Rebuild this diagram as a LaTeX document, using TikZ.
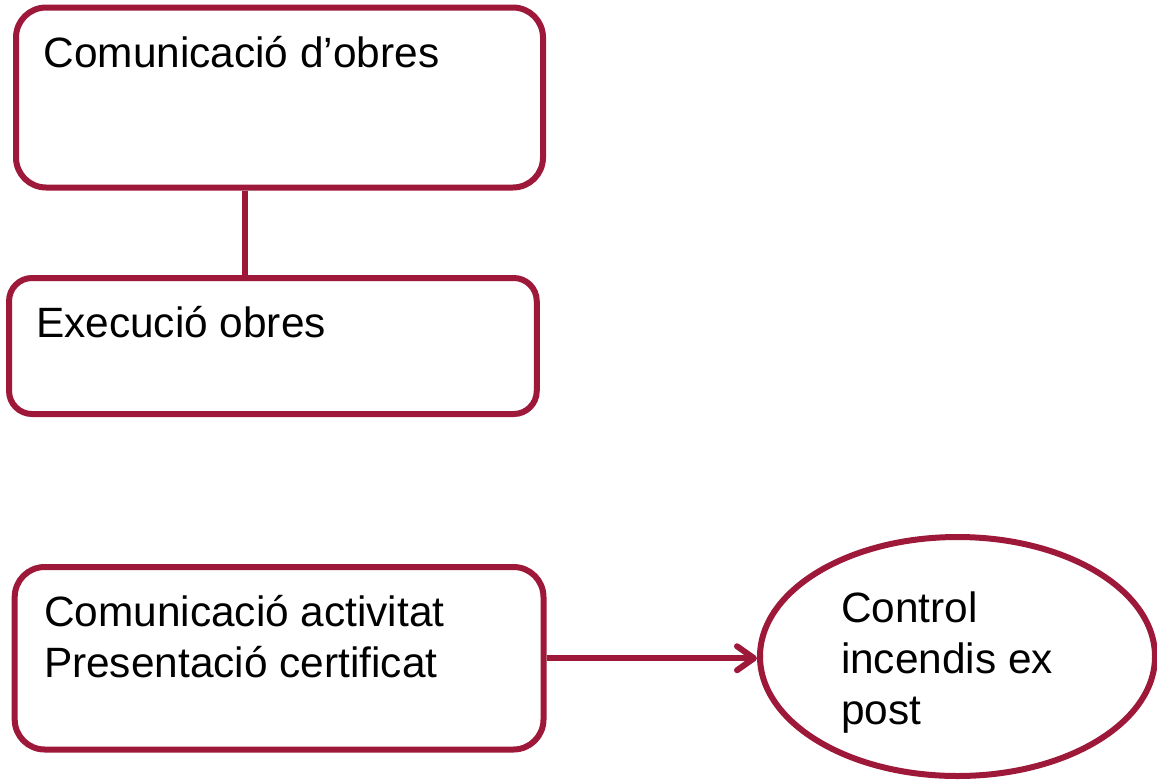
\documentclass[tikz,border=0pt]{standalone}
\usepackage{fontspec}
\setmainfont{Liberation Sans}
\usetikzlibrary{shapes.geometric,arrows.meta}
\definecolor{crimson}{RGB}{158,24,57}
\begin{document}
\begin{tikzpicture}[x=1pt,y=-1pt,
  line width=6pt,
  stepbox/.style={draw=crimson,line width=6pt,rectangle,inner sep=0pt,fill=white},
  ovalbox/.style={draw=crimson,line width=6pt,ellipse,inner sep=0pt,fill=white},
  label/.style={anchor=base west,inner sep=0pt,align=left,text=black,
    font=\fontsize{42.4}{51}\selectfont},
  link/.style={draw=crimson,line width=6pt},
  arrowlink/.style={link,-{Straight Barb[length=17pt,width=24pt,round]}}]
\useasboundingbox (0,0) rectangle (1157,782);
\node[stepbox,rounded corners=30pt,minimum width=527pt,minimum height=180pt] (b1) at (279.5,97.5) {};
\node[stepbox,rounded corners=23pt,minimum width=527.7pt,minimum height=136pt] (b2) at (272.9,346) {};
\node[stepbox,rounded corners=30pt,minimum width=528.8pt,minimum height=182.5pt] (b3) at (279.1,658.25) {};
\node[ovalbox,minimum width=395pt,minimum height=239pt] (e1) at (957.5,656.5) {};
\node[label] (t1) at (40.5,67) {Comunicació d’obres};
\node[label] (t2) at (33,337.7) {Execució obres};
\node[label] (t3) at (41,677.7) {Comunicació activitat\\Presentació certificat};
\node[label] (t4) at (838,724) {Control\\incendis ex\\post};
\draw[link] ([xshift=-34.8pt]b1.south) -- ([xshift=-34.8pt]b1.south |- b2.north);
\draw[arrowlink] (b3.east) -- (b3.east -| e1.west);
\end{tikzpicture}
\end{document}
